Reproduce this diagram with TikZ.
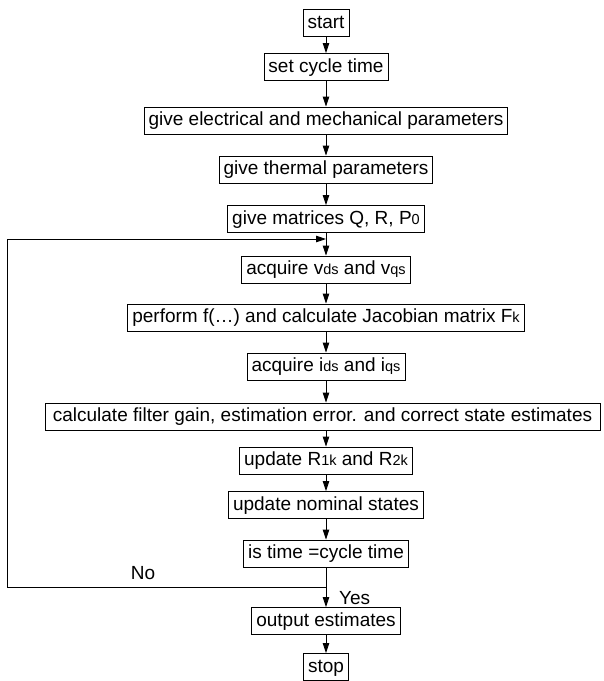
\documentclass[tikz,border=0pt]{standalone}
\usepackage{fontspec}
\setmainfont{Liberation Sans}
\usetikzlibrary{arrows.meta}
\newcommand{\sbs}[1]{{\fontsize{14.5}{14.5}\selectfont #1}}
\begin{document}
\begin{tikzpicture}[x=1pt,y=-1pt,
  box/.style={draw, line width=0.9pt, font=\fontsize{19}{22}\selectfont,
    inner xsep=4.5pt, inner ysep=0pt, minimum height=27pt, text height=14pt, text depth=4pt},
  lbl/.style={font=\fontsize{19}{22}\selectfont, inner sep=0pt},
  arr/.style={line width=0.9pt, -{Triangle[length=10pt,width=6.5pt]}},
  ln/.style={line width=0.9pt}]
\useasboundingbox (0,0) rectangle (604,681);
\node[box] (start) at (326,23) {start};
\node[box] (cyc) at (326,67) {set cycle time};
\node[box] (elec) at (326,120.5) {give electrical and mechanical parameters};
\node[box] (therm) at (326,169.5) {give thermal parameters};
\node[box] (mat) at (326,219) {give matrices Q, R, P\sbs{0}};
\coordinate (j1) at (326,239);
\node[box] (vds) at (326,269.5) {acquire v\sbs{ds} and v\sbs{qs}};
\node[box] (perf) at (326,317.5) {perform f(…) and calculate Jacobian matrix F\sbs{k}};
\node[box] (ids) at (326,366.5) {acquire i\sbs{ds} and i\sbs{qs}};
\node[box, minimum width=555pt] (calc) at (322.5,416.5) {calculate filter gain, estimation error. and correct state estimates};
\node[box] (upR) at (326,460.5) {update R\sbs{1k} and R\sbs{2k}};
\node[box] (nom) at (326,505) {update nominal states};
\node[box] (ist) at (326,553.5) {is time =cycle time};
\coordinate (j2) at (326,587);
\coordinate (c1) at (7,587);
\coordinate (c2) at (7,239);
\node[box] (out) at (326,621) {output estimates};
\node[box] (stop) at (326,667) {stop};
\node[lbl] (no) at (143,573) {No};
\node[lbl, anchor=west] (yes) at (339,598) {Yes};

\draw[arr] (start.south) -- (cyc.north);
\draw[arr] (cyc.south) -- (elec.north);
\draw[arr] (elec.south) -- (therm.north);
\draw[arr] (therm.south) -- (mat.north);
\draw[arr] (mat.south) -- (vds.north);
\draw[arr] (vds.south) -- (perf.north);
\draw[arr] (perf.south) -- (ids.north);
\draw[arr] (ids.south) -- (ids.south |- calc.north);
\draw[arr] (calc.south -| upR.north) -- (upR.north);
\draw[arr] (upR.south) -- (nom.north);
\draw[arr] (nom.south) -- (ist.north);
\draw[ln] (ist.south) -- (j2);
\draw[arr] (j2) -- (out.north);
\draw[arr] (j2) -- (c1) -- (c2) -- (j1);
\draw[arr] (out.south) -- (stop.north);
\end{tikzpicture}
\end{document}
